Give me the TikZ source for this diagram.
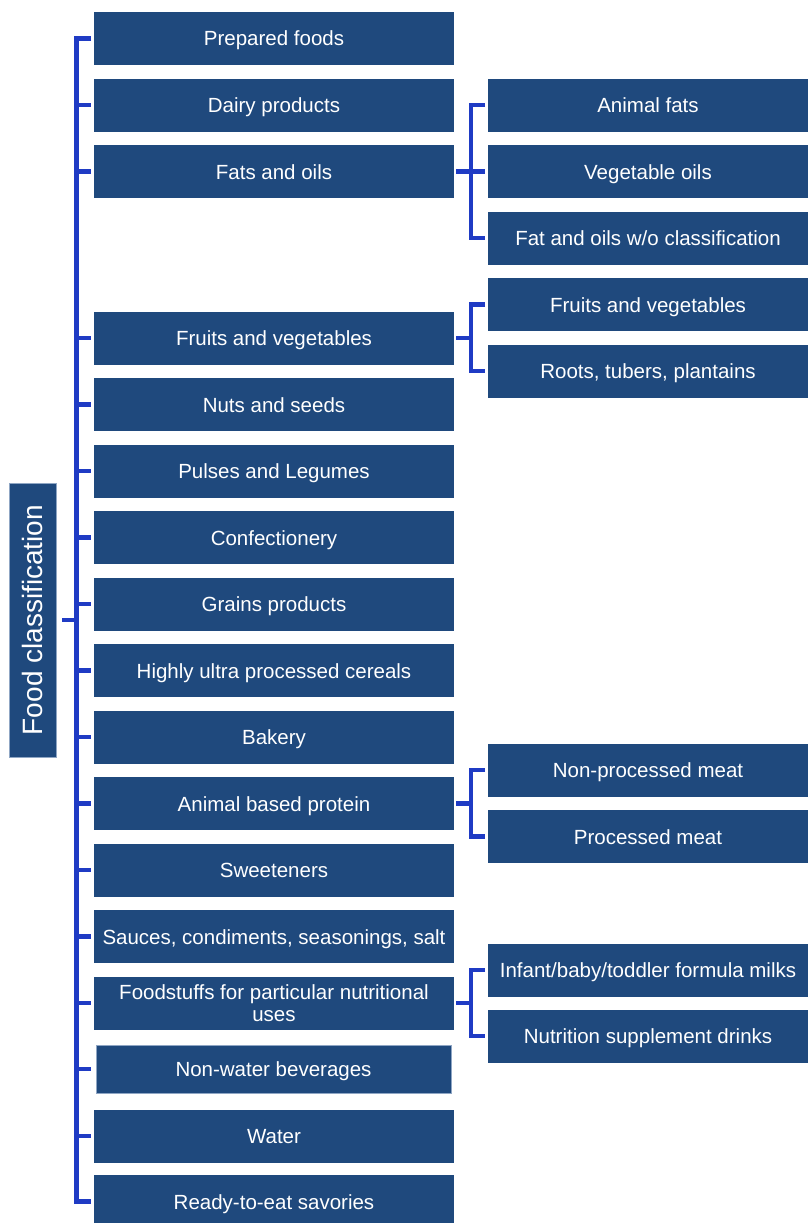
\documentclass[tikz,border=0pt]{standalone}
\usepackage{fontspec}
\setmainfont{Liberation Sans}
\usetikzlibrary{calc}

\definecolor{boxblue}{HTML}{1F497D}
\definecolor{brackblue}{HTML}{1F3BC4}
\definecolor{rimblue}{HTML}{8FA6C4}

% Boxes
\tikzstyle{cat}=[fill=boxblue,text=white,inner sep=0pt,outer sep=0pt,minimum width=360pt,minimum height=53pt,font=\fontsize{20.5}{22}\selectfont,align=center,text height=15pt,text depth=0pt]
\tikzstyle{sub}=[cat,minimum width=320pt]
\tikzstyle{root}=[fill=boxblue,draw=rimblue,line width=0.8pt,text=white,inner sep=0pt,minimum width=47pt,minimum height=274pt]

% Bracket lines
\tikzstyle{brk}=[brackblue,line width=4.5pt,line join=miter,line cap=butt]

\begin{document}
\begin{tikzpicture}[x=1pt,y=-1pt]

\useasboundingbox (0,0) rectangle (808,1223);

%%%%%%%%%%%%%%%%%%%%%%%%%%%%%%%%%%%%%%%%%%%%%%%%%%%%%%%%%%%%%%%%
%
%       Root
%
\node (food) [root] at (32.5,620) {};
\node [rotate=90,text=white,font=\fontsize{28}{30}\selectfont] at (food.center) {Food classification};

%%%%%%%%%%%%%%%%%%%%%%%%%%%%%%%%%%%%%%%%%%%%%%%%%%%%%%%%%%%%%%%%
%
%       Main categories
%
\node (prep)   [cat] at (274,38.5)   {Prepared foods};
\node (dairy)  [cat] at (274,105)    {Dairy products};
\node (fats)   [cat] at (274,171.5)  {Fats and oils};
\node (fruit)  [cat] at (274,338)    {Fruits and vegetables};
\node (nuts)   [cat] at (274,404.5)  {Nuts and seeds};
\node (pulse)  [cat] at (274,471)    {Pulses and Legumes};
\node (conf)   [cat] at (274,537.5)  {Confectionery};
\node (grain)  [cat] at (274,604)    {Grains products};
\node (cereal) [cat] at (274,670.5)  {Highly ultra processed cereals};
\node (bake)   [cat] at (274,737)    {Bakery};
\node (prot)   [cat] at (274,803.5)  {Animal based protein};
\node (sweet)  [cat] at (274,870)    {Sweeteners};
\node (sauce)  [cat] at (274,936.5)  {Sauces, condiments, seasonings, salt};
\node (nutr)   [cat,text height=,text depth=] at (274,1003)   {Foodstuffs for particular nutritional\\uses};
\node (bev)    [cat,draw=rimblue,line width=0.8pt,minimum width=355pt,minimum height=48pt] at (273.5,1069) {Non-water beverages};
\node (water)  [cat] at (274,1136)   {Water};
\node (ready)  [cat] at (274,1201.5) {Ready-to-eat savories};

%%%%%%%%%%%%%%%%%%%%%%%%%%%%%%%%%%%%%%%%%%%%%%%%%%%%%%%%%%%%%%%%
%
%       Sub categories
%
\node (anfat)  [sub] at (648,105)    {Animal fats};
\node (vegoil) [sub] at (648,171.5)  {Vegetable oils};
\node (nofat)  [sub] at (648,238)    {Fat and oils w/o classification};
\node (fruveg) [sub] at (648,304.5)  {Fruits and vegetables};
\node (roots)  [sub] at (648,371)    {Roots, tubers, plantains};
\node (npmeat) [sub] at (648,770)    {Non-processed meat};
\node (pmeat)  [sub] at (648,836.5)  {Processed meat};
\node (infant) [sub] at (648,970)    {Infant/baby/toddler formula milks};
\node (drink)  [sub] at (648,1036)   {Nutrition supplement drinks};

%%%%%%%%%%%%%%%%%%%%%%%%%%%%%%%%%%%%%%%%%%%%%%%%%%%%%%%%%%%%%%%%
%
%       Main bracket
%
\coordinate (spine) at (76.5,0);
\coordinate (rspine) at (471,0);

\draw[brk,shorten <=6pt] (food.east) -- (spine|-food.east);
\draw[brk,shorten <=3pt,shorten >=3pt] (prep.west) -- (spine|-prep.west) -- (spine|-ready.west) -- (ready.west);
\draw[brk,shorten >=3pt] (spine|-dairy.west)  -- (dairy.west);
\draw[brk,shorten >=3pt] (spine|-fats.west)   -- (fats.west);
\draw[brk,shorten >=3pt] (spine|-fruit.west)  -- (fruit.west);
\draw[brk,shorten >=3pt] (spine|-nuts.west)   -- (nuts.west);
\draw[brk,shorten >=3pt] (spine|-pulse.west)  -- (pulse.west);
\draw[brk,shorten >=3pt] (spine|-conf.west)   -- (conf.west);
\draw[brk,shorten >=3pt] (spine|-grain.west)  -- (grain.west);
\draw[brk,shorten >=3pt] (spine|-cereal.west) -- (cereal.west);
\draw[brk,shorten >=3pt] (spine|-bake.west)   -- (bake.west);
\draw[brk,shorten >=3pt] (spine|-prot.west)   -- (prot.west);
\draw[brk,shorten >=3pt] (spine|-sweet.west)  -- (sweet.west);
\draw[brk,shorten >=3pt] (spine|-sauce.west)  -- (sauce.west);
\draw[brk,shorten >=3pt] (spine|-nutr.west)   -- (nutr.west);
\draw[brk,shorten >=5pt] (spine|-bev.west)    -- (bev.west);
\draw[brk,shorten >=3pt] (spine|-water.west)  -- (water.west);

%%%%%%%%%%%%%%%%%%%%%%%%%%%%%%%%%%%%%%%%%%%%%%%%%%%%%%%%%%%%%%%%
%
%       Sub brackets
%
% fats and oils
\draw[brk,shorten <=2pt] (fats.east) -- (rspine|-fats.east);
\draw[brk,shorten <=3pt,shorten >=3pt] (anfat.west) -- (rspine|-anfat.west) -- (rspine|-nofat.west) -- (nofat.west);
\draw[brk,shorten >=3pt] (rspine|-vegoil.west) -- (vegoil.west);

% fruits and vegetables
\draw[brk,shorten <=2pt] (fruit.east) -- (rspine|-fruit.east);
\draw[brk,shorten <=3pt,shorten >=3pt] (fruveg.west) -- (rspine|-fruveg.west) -- (rspine|-roots.west) -- (roots.west);

% animal protein
\draw[brk,shorten <=2pt] (prot.east) -- (rspine|-prot.east);
\draw[brk,shorten <=3pt,shorten >=3pt] (npmeat.west) -- (rspine|-npmeat.west) -- (rspine|-pmeat.west) -- (pmeat.west);

% nutritional uses
\draw[brk,shorten <=2pt] (nutr.east) -- (rspine|-nutr.east);
\draw[brk,shorten <=3pt,shorten >=3pt] (infant.west) -- (rspine|-infant.west) -- (rspine|-drink.west) -- (drink.west);

\end{tikzpicture}
\end{document}
